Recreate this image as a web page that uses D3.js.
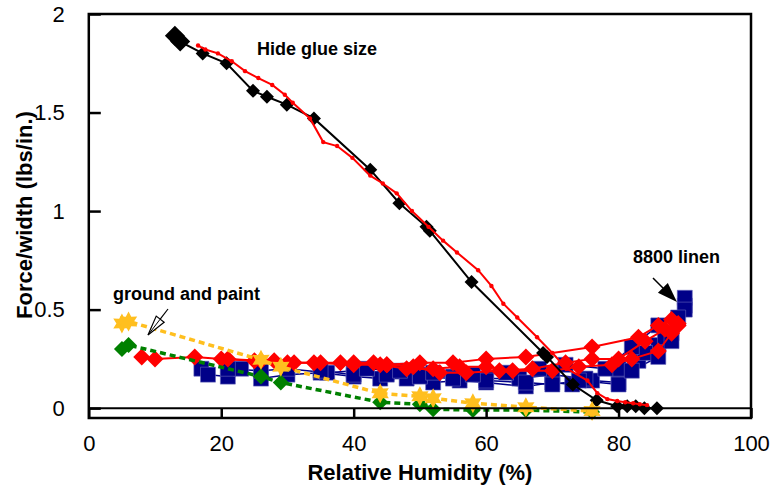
<!DOCTYPE html>
<html><head><meta charset="utf-8">
<script src="https://cdn.jsdelivr.net/npm/d3@7"></script>
<style>
html,body{margin:0;padding:0;background:#fff;}
svg text{font-family:"Liberation Sans",Arial,Helvetica,sans-serif;}
</style></head>
<body>
<svg id="chart" width="770" height="486"></svg>
<script>
// ---- Data ----
const xTicks = [0, 20, 40, 60, 80, 100];
const yTicks = [0, 0.5, 1, 1.5, 2];

// Hide glue size (black diamonds)
const hideGlueBlack = [[13.0,1.89],[13.8,1.86],[17.2,1.80],[20.8,1.75],[24.8,1.61],[26.9,1.58],[29.9,1.54],[34.0,1.47],[42.5,1.21],[46.9,1.04],[51.0,0.92],[51.5,0.90],[57.8,0.64],[68.6,0.28],[69.2,0.26],[73.1,0.12],[76.7,0.04],[79.8,0.01],[81.3,0.01],[82.6,0.01],[83.9,0.0],[85.8,0.0]];
// Hide glue size (red curve with small dots)
const hideGlueRed = [[16.5,1.84],[17.6,1.82],[19.5,1.80],[21.6,1.76],[23.6,1.71],[25.6,1.675],[27.7,1.64],[29.6,1.59],[30.8,1.55],[33.4,1.47],[35.4,1.35],[37.5,1.33],[39.8,1.27],[42.5,1.18],[44.4,1.14],[46.5,1.09],[48.8,1.00],[51.3,0.92],[53.5,0.85],[55.6,0.79],[58.8,0.70],[60.8,0.62],[62.6,0.53],[64.7,0.46],[67.7,0.36],[70.0,0.28],[72.2,0.20],[75.3,0.14],[76.8,0.076],[78.3,0.046],[79.8,0.036],[81.0,0.03],[82.2,0.025],[83.2,0.02],[84.3,0.015]];

// 8800 linen, blue squares (several runs)
const linenBlue1 = [[17,0.20],[18,0.17],[21,0.16],[23,0.20],[26,0.15],[30,0.17],[35,0.18],[40,0.16],[44,0.15],[48,0.15],[52,0.13],[56,0.14],[60,0.13],[66,0.11],[70,0.13],[73,0.12],[76,0.14],[80,0.13],[83,0.24],[86,0.32],[88,0.38],[90,0.52]];
const linenBlue2 = [[21,0.20],[26,0.19],[30,0.20],[36,0.18],[40,0.19],[45,0.18],[50,0.17],[55,0.16],[60,0.15],[65,0.15],[70,0.17],[75,0.15],[80,0.20],[84,0.28],[87,0.36],[90,0.56]];
const linenBlue3 = [[35,0.19],[40,0.17],[45,0.17],[50,0.16],[55,0.15],[60,0.14],[66,0.13],[70,0.12],[74,0.14],[80,0.12],[82,0.19],[86,0.26],[88,0.34],[90,0.50]];
const linenBlue4 = [[42,0.20],[47,0.19],[52,0.18],[58,0.17],[63,0.18],[68,0.20],[72,0.22],[78,0.20],[82,0.31],[86,0.42],[89,0.46]];

// 8800 linen, red diamonds (several runs)
const linenRed1 = [[8,0.26],[10,0.25],[16,0.26],[20,0.25],[25,0.24],[28,0.24],[31,0.23],[35,0.23],[38,0.23],[43,0.23],[45,0.22],[50,0.23],[55,0.23],[60,0.25],[66,0.26],[76,0.31],[83,0.36],[86,0.42],[88,0.45]];
const linenRed2 = [[21,0.25],[26,0.24],[30,0.23],[34,0.23],[40,0.22],[44,0.22],[48,0.20],[52,0.20],[56,0.21],[60,0.21],[64,0.19],[70,0.19],[74,0.21],[79,0.22],[82,0.25],[86,0.29],[88,0.38],[89,0.42]];
const linenRed3 = [[40,0.23],[45,0.22],[49,0.21],[53,0.18],[57,0.18],[62,0.19],[67,0.20],[72,0.23],[76,0.25],[80,0.25],[84,0.34],[87,0.40],[89,0.43]];

// Ground and paint
const groundYellow = [[5,0.43],[6,0.44],[26,0.245],[29,0.21],[44,0.075],[50,0.06],[52,0.05],[58,0.025],[66,0.005],[76,-0.015]];
const groundGreen = [[5,0.30],[6,0.32],[26,0.16],[29,0.13],[44,0.03],[50,0.02],[52,-0.005],[58,-0.01],[66,-0.01],[76,-0.02]];

// ---- Chart ----
const svg = d3.select("#chart");
const x = d3.scaleLinear().domain([0,100]).range([88.8,751]);
const y = d3.scaleLinear().domain([-0.05,2]).range([418,14]);
const line = d3.line().x(d=>x(d[0])).y(d=>y(d[1]));

const diamond = r => `M0,${-r}L${r},0L0,${r}L${-r},0Z`;
const square = s => `M${-s/2},${-s/2}h${s}v${s}h${-s}Z`;
function star(R, r){
  let p = [];
  for(let i=0;i<12;i++){
    const a = -Math.PI/2 + i*Math.PI/6;
    const rad = i%2===0 ? R : r;
    p.push([rad*Math.cos(a), rad*Math.sin(a)]);
  }
  return "M" + p.map(d=>d[0].toFixed(2)+","+d[1].toFixed(2)).join("L") + "Z";
}

const plot = svg.append("g");

// blue linen
[linenBlue1, linenBlue2, linenBlue3, linenBlue4].forEach(s=>{
  plot.append("path").attr("d", line(s)).attr("fill","none").attr("stroke","#000088").attr("stroke-width",1.5);
});
[linenBlue1, linenBlue2, linenBlue3, linenBlue4].forEach(s=>{
  plot.selectAll(null).data(s).enter().append("path")
    .attr("transform", d=>`translate(${x(d[0])},${y(d[1])})`)
    .attr("d", square(15)).attr("fill","#000088").attr("stroke","#6666bb").attr("stroke-width",0.6);
});
// red linen
[linenRed1, linenRed2, linenRed3].forEach(s=>{
  plot.append("path").attr("d", line(s)).attr("fill","none").attr("stroke","#ff0000").attr("stroke-width",2);
});
[linenRed1, linenRed2, linenRed3].forEach(s=>{
  plot.selectAll(null).data(s).enter().append("path")
    .attr("transform", d=>`translate(${x(d[0])},${y(d[1])})`)
    .attr("d", diamond(8.5)).attr("fill","#ff0000");
});

// hide glue black
plot.append("path").attr("d", line(hideGlueBlack)).attr("fill","none").attr("stroke","#000").attr("stroke-width",2);
plot.selectAll(null).data(hideGlueBlack).enter().append("path")
  .attr("transform", d=>`translate(${x(d[0])},${y(d[1])})`)
  .attr("d", (d,i)=> i<2 ? diamond(10) : diamond(7)).attr("fill","#000");
// hide glue red
plot.append("path").attr("d", line(hideGlueRed)).attr("fill","none").attr("stroke","#ff0000").attr("stroke-width",2);
plot.selectAll(null).data(hideGlueRed).enter().append("circle")
  .attr("cx", d=>x(d[0])).attr("cy", d=>y(d[1])).attr("r",2.2).attr("fill","#ff0000");

// ground and paint green
plot.append("path").attr("d", line(groundGreen)).attr("fill","none").attr("stroke","#008000").attr("stroke-width",3.5).attr("stroke-dasharray","6,4");
plot.selectAll(null).data(groundGreen).enter().append("path")
  .attr("transform", d=>`translate(${x(d[0])},${y(d[1])})`)
  .attr("d", diamond(8)).attr("fill","#008000");
// ground and paint yellow
plot.append("path").attr("d", line(groundYellow)).attr("fill","none").attr("stroke","#ffbf1f").attr("stroke-width",3.5).attr("stroke-dasharray","6,4");
plot.selectAll(null).data(groundYellow).enter().append("path")
  .attr("transform", d=>`translate(${x(d[0])},${y(d[1])})`)
  .attr("d", star(10,5.5)).attr("fill","#ffbf1f");

// ---- Frame & axes ----
svg.append("line").attr("x1",x(0)).attr("x2",x(100)).attr("y1",y(0)).attr("y2",y(0)).attr("stroke","#000").attr("stroke-width",2);
svg.append("rect").attr("x",x(0)).attr("y",y(2)).attr("width",x(100)-x(0)).attr("height",y(-0.05)-y(2))
  .attr("fill","none").attr("stroke","#000").attr("stroke-width",2.5);

const xAxis = d3.axisBottom(x).tickValues(xTicks).tickSizeInner(-10).tickSizeOuter(0).tickPadding(17).tickFormat(d=>String(d));
const gx = svg.append("g").attr("transform",`translate(0,${y(-0.05)})`).call(xAxis);
gx.select(".domain").remove();
gx.selectAll(".tick line").attr("stroke-width",2.5);
gx.selectAll("text").attr("font-size",22).attr("fill","#000");

const yAxis = d3.axisLeft(y).tickValues(yTicks).tickSizeInner(-12).tickSizeOuter(0).tickPadding(24).tickFormat(d=>String(d));
const gy = svg.append("g").attr("transform",`translate(${x(0)},0)`).call(yAxis);
gy.select(".domain").remove();
gy.selectAll(".tick line").attr("stroke-width",2.5);
gy.selectAll("text").attr("font-size",22).attr("fill","#000");

// axis titles
svg.append("text").attr("x",(x(0)+x(100))/2).attr("y",480).attr("text-anchor","middle")
  .attr("font-size",22).attr("font-weight","bold").text("Relative Humidity (%)");
svg.append("text").attr("transform","translate(32,215) rotate(-90)").attr("text-anchor","middle")
  .attr("font-size",22).attr("font-weight","bold").text("Force/width (lbs/in.)");

// annotations
svg.append("text").attr("x",257).attr("y",55).attr("font-size",18).attr("font-weight","bold").text("Hide glue size");
svg.append("text").attr("x",633).attr("y",263).attr("font-size",18).attr("font-weight","bold").text("8800 linen");
svg.append("text").attr("x",113).attr("y",300).attr("font-size",18).attr("font-weight","bold").text("ground and paint");

// arrow: 8800 linen (filled)
svg.append("line").attr("x1",653).attr("y1",278).attr("x2",665).attr("y2",290).attr("stroke","#000").attr("stroke-width",1.5);
(function(){
  const tip=[677,302], ang=Math.atan2(302-278,677-653), L=20, W=7;
  const bx=tip[0]-L*Math.cos(ang), by=tip[1]-L*Math.sin(ang);
  const px=-Math.sin(ang)*W, py=Math.cos(ang)*W;
  svg.append("path").attr("d",`M${tip[0]},${tip[1]}L${bx+px},${by+py}L${bx-px},${by-py}Z`).attr("fill","#000");
})();
// arrow: ground and paint (hollow)
(function(){
  const from=[168,309], tip=[148,335];
  const ang=Math.atan2(tip[1]-from[1], tip[0]-from[0]), L=20, W=5;
  const bx=tip[0]-L*Math.cos(ang), by=tip[1]-L*Math.sin(ang);
  const px=-Math.sin(ang)*W, py=Math.cos(ang)*W;
  svg.append("line").attr("x1",from[0]).attr("y1",from[1]).attr("x2",bx).attr("y2",by).attr("stroke","#000").attr("stroke-width",1.2);
  svg.append("path").attr("d",`M${tip[0]},${tip[1]}L${bx+px},${by+py}L${bx-px},${by-py}Z`).attr("fill","#fff").attr("stroke","#000").attr("stroke-width",1.2);
  svg.append("line").attr("x1",tip[0]).attr("y1",tip[1]).attr("x2",bx).attr("y2",by).attr("stroke","#000").attr("stroke-width",1);
})();
</script>
</body></html>
